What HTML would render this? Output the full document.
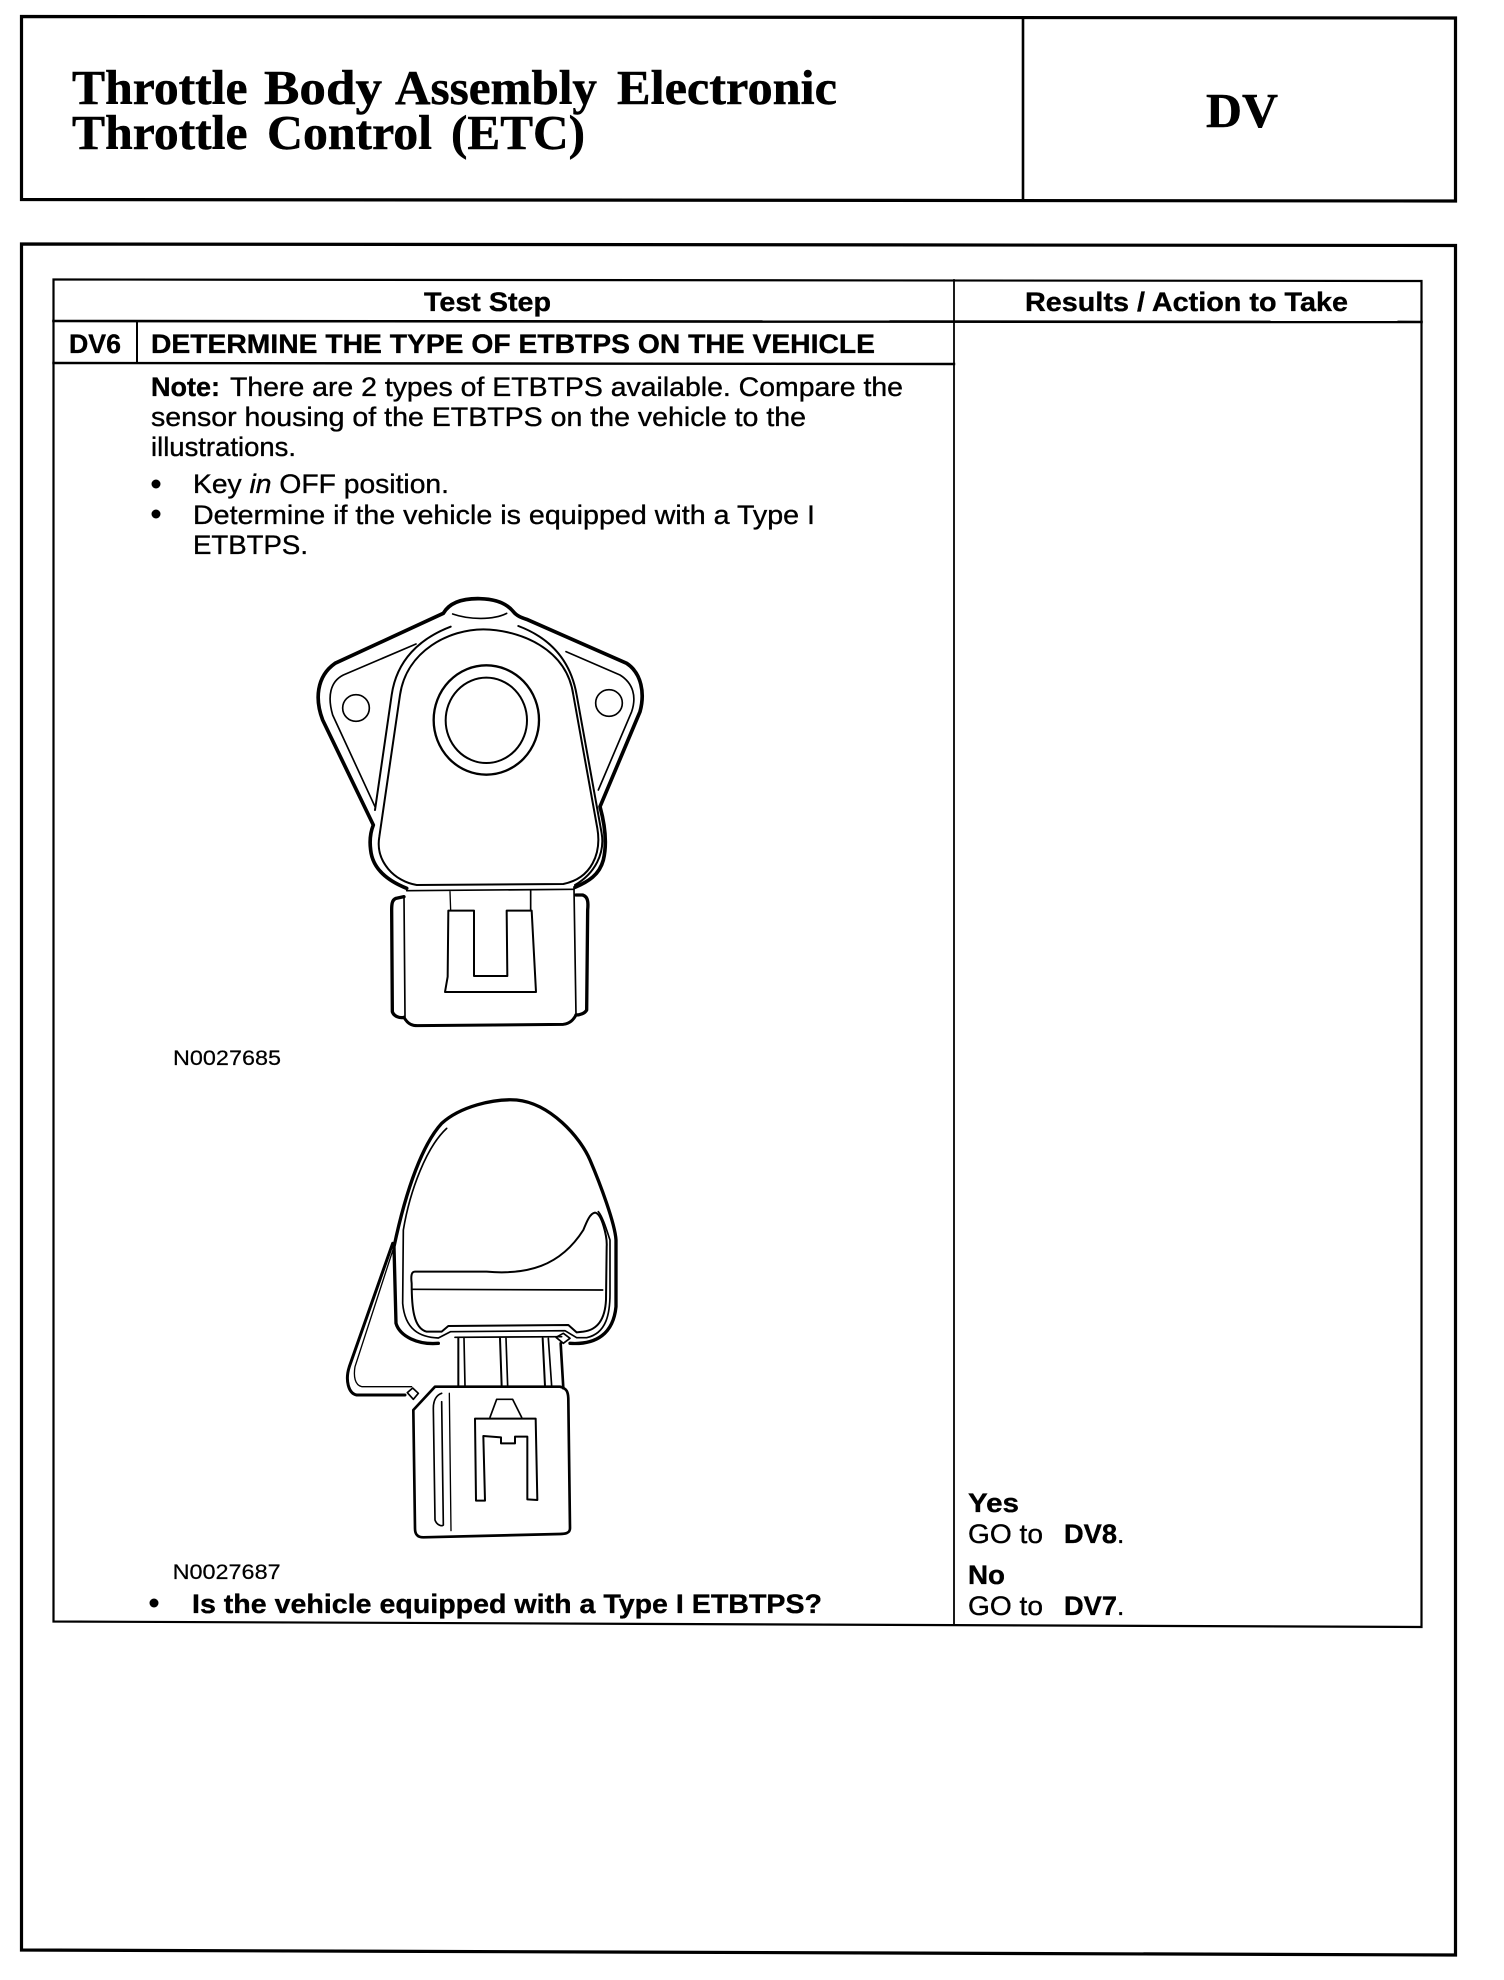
<!DOCTYPE html>
<html><head><meta charset="utf-8"><title>Throttle Body Assembly ETC - DV</title>
<style>html,body{margin:0;padding:0;background:#fff}svg{display:block}
.s{font-family:"Liberation Sans",sans-serif;font-size:26.5px;fill:#000;stroke:#000;stroke-width:.35px}
.b{font-weight:bold}
.t{font-family:"Liberation Serif",serif;font-weight:bold;font-size:49px;fill:#000;stroke:#000;stroke-width:.5px}
.n{font-family:"Liberation Sans",sans-serif;font-size:21px;fill:#000;stroke:#000;stroke-width:.2px}
</style></head><body>
<svg width="1504" height="1980" viewBox="0 0 1504 1980" xmlns="http://www.w3.org/2000/svg">
<rect width="1504" height="1980" fill="#fff"/>
<g stroke="#000" fill="none" stroke-linecap="square">
<g stroke-width="3.2">
<path d="M21.5 16.5 L1455.5 18 L1455.5 201 L21.5 199.5 Z"/>
<path d="M1023 18 V200" stroke-width="2.6"/>
<path d="M21.5 244 L1455.5 245.5 L1455.5 1955 L21.5 1950 Z"/>
</g>
<g stroke-width="2.2">
<path d="M53.5 279.5 L1421.5 281 L1421.5 1627 L53.5 1621.5 Z"/>
<path d="M53.5 321 L1421.5 322" stroke-width="2.6"/>
<path d="M53.5 363 L954 364" stroke-width="2.4"/>
<path d="M954 280 V1625" stroke-width="1.8"/>
<path d="M137 321 V363" stroke-width="2"/>
</g>
</g>

<text class="t" x="72" y="104" textLength="175.5" lengthAdjust="spacingAndGlyphs">Throttle</text>
<text class="t" x="264" y="104" textLength="118" lengthAdjust="spacingAndGlyphs">Body</text>
<text class="t" x="395" y="104" textLength="202" lengthAdjust="spacingAndGlyphs">Assembly</text>
<text class="t" x="617" y="104" textLength="220" lengthAdjust="spacingAndGlyphs">Electronic</text>
<text class="t" x="72" y="149" textLength="175.5" lengthAdjust="spacingAndGlyphs">Throttle</text>
<text class="t" x="267" y="149" textLength="165" lengthAdjust="spacingAndGlyphs">Control</text>
<text class="t" x="451" y="149" textLength="134" lengthAdjust="spacingAndGlyphs">(ETC)</text>
<text class="t" x="1206" y="127" textLength="72" lengthAdjust="spacingAndGlyphs">DV</text>

<text class="s b" x="424" y="311" textLength="127" lengthAdjust="spacingAndGlyphs">Test Step</text>
<text class="s b" x="1025" y="311" textLength="323" lengthAdjust="spacingAndGlyphs">Results / Action to Take</text>
<text class="s b" x="69" y="353" textLength="52" lengthAdjust="spacingAndGlyphs">DV6</text>
<text class="s b" x="151" y="353" textLength="724" lengthAdjust="spacingAndGlyphs">DETERMINE THE TYPE OF ETBTPS ON THE VEHICLE</text>

<text class="s b" x="151" y="396" textLength="69" lengthAdjust="spacingAndGlyphs">Note:</text>
<text class="s" x="230" y="396" textLength="673" lengthAdjust="spacingAndGlyphs">There are 2 types of ETBTPS available. Compare the</text>
<text class="s" x="151" y="426" textLength="655" lengthAdjust="spacingAndGlyphs">sensor housing of the ETBTPS on the vehicle to the</text>
<text class="s" x="151" y="456" textLength="145" lengthAdjust="spacingAndGlyphs">illustrations.</text>

<circle cx="156" cy="484" r="4.5" fill="#000"/>
<circle cx="156" cy="514" r="4.5" fill="#000"/>
<text class="s" x="193" y="493" textLength="256" lengthAdjust="spacingAndGlyphs">Key <tspan font-style="italic">in</tspan> OFF position.</text>
<text class="s" x="193" y="524" textLength="622" lengthAdjust="spacingAndGlyphs">Determine if the vehicle is equipped with a Type I</text>
<text class="s" x="193" y="554" textLength="115" lengthAdjust="spacingAndGlyphs">ETBTPS.</text>

<!-- Illustration 1 -->
<g transform="translate(280,580) scale(0.33333)" fill="none" stroke="#000" stroke-linejoin="round" stroke-linecap="round">
<path stroke-width="11" d="M380 925 C330 905 278 870 272 810 C268 780 272 755 280 735 L128 420 C105 360 108 290 165 250 L490 100 C510 65 555 55 600 56 C645 57 680 70 700 95 C710 108 725 113 740 118 L1040 250 C1085 280 1095 340 1080 395 L960 680 C975 735 982 790 970 840 C958 885 925 905 885 922"/>
<path stroke-width="6" d="M298 770 L360 345 C380 210 510 148 610 148 C720 150 860 205 880 345 L952 745 C965 820 935 895 850 912 L410 915 C345 905 285 845 298 770 Z"/>
<path stroke-width="6" d="M285 690 L335 345 C350 240 420 175 512 140"/>
<path stroke-width="6" d="M715 138 C800 170 870 230 890 345 L965 760 C975 820 945 880 885 915"/>
<path stroke-width="5" d="M408 192 L190 285 C150 305 142 350 158 405 L285 680"/>
<path stroke-width="5" d="M858 215 L1020 285 C1060 310 1070 350 1055 395 L955 630"/>
<path stroke-width="5" d="M518 102 C570 120 640 120 680 100"/>
<circle cx="228" cy="384" r="40" stroke-width="5"/>
<circle cx="987" cy="369" r="40" stroke-width="5"/>
<ellipse cx="619" cy="420" rx="158" ry="164" stroke-width="7"/>
<ellipse cx="619" cy="421" rx="122" ry="128" stroke-width="6"/>
<path stroke-width="5" d="M380 932 L882 928"/>
<path stroke-width="5" d="M372 950 L375 1310"/>
<path stroke-width="5" d="M882 925 L888 1305"/>
<path stroke-width="10" d="M372 950 L348 955 C336 960 335 972 335 990 L337 1295 C342 1310 360 1315 372 1312"/>
<path stroke-width="9" d="M372 1312 C385 1335 400 1337 412 1337 L850 1333 C870 1330 880 1320 888 1305"/>
<path stroke-width="10" d="M888 945 L908 945 C925 950 925 970 923 990 L920 1290 C915 1300 900 1305 888 1305"/>
<path stroke-width="4" d="M510 935 L512 992"/>
<path stroke-width="5" d="M752 930 L752 992"/>
<path stroke-width="6" d="M505 992 L582 992 L582 1188 L682 1188 L680 992 L755 992 L768 1236 L495 1236 L503 1190 Z"/>
</g>
<text class="n" x="173" y="1065" textLength="108" lengthAdjust="spacingAndGlyphs">N0027685</text>

<!-- Illustration 2 -->
<g transform="translate(320,1080) scale(0.33333)" fill="none" stroke="#000" stroke-linejoin="round" stroke-linecap="round">
<path stroke-width="10" d="M355 790 C295 795 240 770 228 730 L222 500 C260 320 310 190 365 130 C420 80 520 55 590 60 C690 70 780 170 810 240 C840 310 885 430 888 480 L888 680 C880 760 830 795 750 790"/>
<path stroke-width="5" d="M380 145 C320 200 270 330 250 450 L248 670 C255 750 300 772 355 774 L392 755 L735 752 L770 773 L800 773 C860 760 870 700 870 640 L870 480 C860 450 848 410 835 395"/>
<path stroke-width="6" d="M285 575 L500 575 C620 585 720 560 790 450 C800 425 810 400 825 398 C845 400 862 470 860 500 L858 660 C855 720 830 750 790 755 L770 757 L745 735 L385 738 L365 755 L320 755 C280 745 275 680 275 610 C272 585 275 575 285 575 Z"/>
<path stroke-width="5" d="M275 628 L848 630"/>
<path stroke-width="9" d="M218 490 L88 860 C75 900 85 940 110 945 L255 945"/>
<path stroke-width="4" d="M222 500 L105 860 C100 890 105 915 125 920 L275 920"/>
<path stroke-width="5" d="M262 938 L278 924 L295 940 L280 958 Z"/>
<path stroke-width="5" d="M708 772 L730 760 L750 775 L730 790 Z"/>
<path stroke-width="8" d="M345 920 L720 920 C740 925 745 935 745 960 L750 1345 C750 1360 735 1362 720 1362 L310 1372 C290 1372 285 1360 285 1345 L280 990 Z"/>
<path stroke-width="6" d="M415 775 L415 918"/>
<path stroke-width="5" d="M432 775 L435 918"/>
<path stroke-width="6" d="M540 775 L545 918"/>
<path stroke-width="5" d="M558 775 L563 918"/>
<path stroke-width="6" d="M668 775 L675 918"/>
<path stroke-width="5" d="M685 775 L695 918"/>
<path stroke-width="8" d="M722 790 L730 925"/>
<path stroke-width="5" d="M405 772 L725 770"/>
<path stroke-width="4" d="M388 940 L393 1352"/>
<path stroke-width="5" d="M365 965 L370 1335 C365 1340 350 1335 345 1320 L340 985 C340 960 350 945 365 940"/>
<path stroke-width="5" d="M510 1012 L530 958 L578 958 L605 1012"/>
<path stroke-width="6" d="M465 1016 L647 1016 L652 1260 L622 1258 L622 1070 L585 1070 L585 1090 L543 1090 L543 1072 L490 1068 L495 1262 L468 1262 Z"/>
</g>
<text class="n" x="172.6" y="1579" textLength="108" lengthAdjust="spacingAndGlyphs">N0027687</text>

<circle cx="154" cy="1603" r="4.5" fill="#000"/>
<text class="s b" x="192" y="1613" textLength="630" lengthAdjust="spacingAndGlyphs">Is the vehicle equipped with a Type I ETBTPS?</text>

<text class="s b" x="968" y="1512" textLength="51" lengthAdjust="spacingAndGlyphs">Yes</text>
<text class="s" x="968" y="1543" textLength="75" lengthAdjust="spacingAndGlyphs">GO to</text>
<text class="s b" x="1064" y="1543" textLength="53" lengthAdjust="spacingAndGlyphs">DV8</text>
<text class="s" x="1117" y="1543">.</text>
<text class="s b" x="968" y="1584" textLength="37" lengthAdjust="spacingAndGlyphs">No</text>
<text class="s" x="968" y="1615" textLength="75" lengthAdjust="spacingAndGlyphs">GO to</text>
<text class="s b" x="1064" y="1615" textLength="53" lengthAdjust="spacingAndGlyphs">DV7</text>
<text class="s" x="1117" y="1615">.</text>
</svg>
</body></html>
